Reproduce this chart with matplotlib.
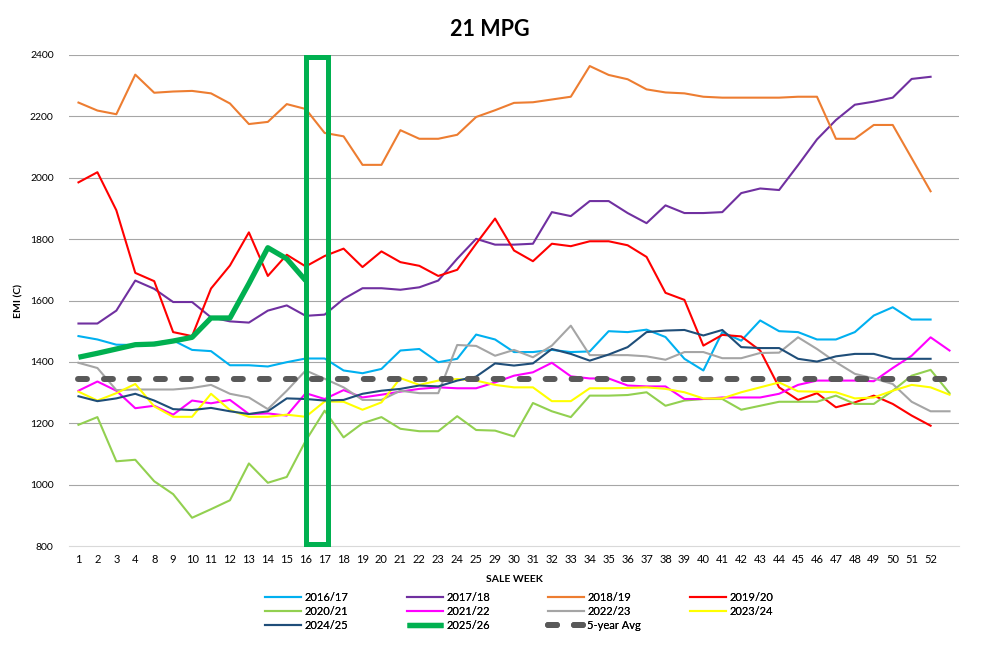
import numpy as np
import matplotlib
matplotlib.use("Agg")
import matplotlib.pyplot as plt
from matplotlib.patches import Rectangle

plt.rcParams['font.family'] = ['Lato', 'DejaVu Sans']

weeks = ["1", "2", "3", "4", "8", "9", "10", "11", "12", "13", "14", "15", "16", "17",
         "18", "19", "20", "21", "22", "23", "24", "25", "29", "30", "31", "32", "33",
         "34", "35", "36", "37", "38", "39", "40", "41", "42", "43", "44", "45", "46",
         "47", "48", "49", "50", "51", "52", ""]

s1617 = [1484, 1473, 1456, 1455, 1462, 1470, 1439, 1435, 1389, 1389,
         1385, 1399, 1411, 1411, 1372, 1363, 1377, 1437, 1442, 1399,
         1410, 1489, 1473, 1432, 1432, 1439, 1432, 1434, 1500, 1497,
         1505, 1481, 1410, 1372, 1497, 1469, 1535, 1500, 1497, 1473,
         1473, 1497, 1551, 1578, 1538, 1538]
s1718 = [1525, 1525, 1567, 1665, 1638, 1595, 1595, 1545, 1532, 1528,
         1567, 1584, 1550, 1554, 1605, 1640, 1640, 1635, 1643, 1665,
         1736, 1801, 1782, 1782, 1785, 1888, 1875, 1924, 1924, 1885,
         1852, 1910, 1885, 1885, 1888, 1950, 1965, 1960, 2041, 2125,
         2188, 2238, 2248, 2261, 2322, 2329]
s1819 = [2245, 2219, 2207, 2336, 2277, 2281, 2283, 2275, 2242, 2175,
         2182, 2240, 2224, 2146, 2135, 2042, 2042, 2155, 2127, 2127,
         2140, 2198, 2220, 2244, 2246, 2255, 2264, 2364, 2335, 2321,
         2288, 2278, 2275, 2264, 2261, 2261, 2261, 2261, 2264, 2264,
         2127, 2127, 2172, 2172, 2064, 1956]
s1920 = [1985, 2018, 1894, 1690, 1663, 1497, 1484, 1639, 1714, 1822,
         1680, 1749, 1711, 1745, 1769, 1709, 1760, 1725, 1713, 1680,
         1700, 1785, 1867, 1763, 1728, 1785, 1777, 1793, 1793, 1780,
         1742, 1625, 1602, 1453, 1488, 1483, 1437, 1317, 1276, 1298,
         1252, 1268, 1290, 1263, 1225, 1192]
s2021 = [1195, 1220, 1076, 1081, 1011, 969, 892, 920, 949, 1069,
         1006, 1025, 1143, 1241, 1154, 1200, 1220, 1182, 1174, 1174,
         1223, 1178, 1176, 1157, 1266, 1239, 1220, 1290, 1290, 1292,
         1301, 1257, 1274, 1279, 1279, 1244, 1257, 1270, 1270, 1270,
         1290, 1263, 1263, 1306, 1355, 1374, 1298]
s2122 = [1306, 1336, 1306, 1249, 1257, 1228, 1274, 1265, 1276, 1230,
         1232, 1225, 1298, 1279, 1308, 1284, 1293, 1303, 1312, 1317,
         1314, 1314, 1333, 1355, 1366, 1397, 1353, 1346, 1346, 1323,
         1320, 1320, 1279, 1279, 1284, 1284, 1284, 1296, 1325, 1339,
         1339, 1339, 1337, 1380, 1420, 1480, 1437]
s2223 = [1397, 1380, 1308, 1310, 1310, 1310, 1315, 1325, 1296, 1284,
         1246, 1306, 1372, 1345, 1317, 1276, 1276, 1306, 1298, 1298,
         1455, 1452, 1420, 1439, 1415, 1453, 1518, 1422, 1422, 1422,
         1418, 1407, 1432, 1432, 1412, 1412, 1429, 1430, 1480, 1442,
         1399, 1361, 1346, 1328, 1270, 1239, 1239]
s2324 = [1303, 1274, 1298, 1328, 1255, 1221, 1221, 1296, 1243, 1221,
         1221, 1228, 1221, 1271, 1270, 1244, 1268, 1347, 1325, 1339,
         1344, 1339, 1325, 1317, 1317, 1272, 1272, 1314, 1314, 1315,
         1317, 1312, 1301, 1281, 1281, 1301, 1317, 1333, 1304, 1303,
         1301, 1281, 1284, 1306, 1325, 1317, 1293]
s2425 = [1288, 1272, 1281, 1296, 1274, 1246, 1243, 1250, 1239, 1230,
         1239, 1281, 1279, 1274, 1276, 1296, 1306, 1312, 1323, 1320,
         1339, 1352, 1395, 1388, 1395, 1442, 1426, 1404, 1424, 1448,
         1497, 1502, 1504, 1486, 1504, 1448, 1445, 1445, 1410, 1401,
         1418, 1426, 1426, 1410, 1410, 1410]
s2526 = [1415, 1428, 1442, 1456, 1458, 1468, 1480, 1543, 1543, 1655,
         1772, 1736, 1665]
avg5 = [1345] * 47

series = [
    ("2016/17", s1617, "#00B0F0"),
    ("2017/18", s1718, "#7030A0"),
    ("2018/19", s1819, "#ED7D31"),
    ("2019/20", s1920, "#FF0000"),
    ("2020/21", s2021, "#92D050"),
    ("2021/22", s2122, "#FF00FF"),
    ("2022/23", s2223, "#A5A5A5"),
    ("2023/24", s2324, "#FFFF00"),
    ("2024/25", s2425, "#1F4E79"),
]

W, H = 987, 648
fig = plt.figure(figsize=(W / 100, H / 100), dpi=100)
ax = fig.add_axes([69 / W, 1 - 546 / H, (959 - 69) / W, (546 - 55) / H])

handles = {}
for name, vals, col in series:
    ln, = ax.plot(np.arange(len(vals)), vals, color=col, lw=1.5,
                  solid_joinstyle='round', zorder=3)
    handles[name] = ln

ln, = ax.plot(np.arange(len(s2526)), s2526, color="#00B050", lw=3.8,
              solid_joinstyle='round', solid_capstyle='butt', zorder=5)
handles["2025/26"] = ln
ln, = ax.plot(np.arange(len(avg5)), avg5, color="#595959", lw=4.3,
              linestyle=(0, (1.5, 2.85)), dash_capstyle='round', zorder=4)
handles["5-year Avg"] = ln

# highlight box around weeks 16-17
ax.add_patch(Rectangle((12.04, 808), 1.16, 1587, fill=False,
                       edgecolor="#00B050", lw=3.6, zorder=6, clip_on=False))

ax.set_xlim(-0.5, len(weeks) - 0.5)
ax.set_ylim(800, 2400)
ax.set_xticks(np.arange(len(weeks)))
ax.set_xticklabels(weeks, fontsize=8)
ax.set_yticks(np.arange(800, 2401, 200))
ax.tick_params(axis='both', length=0, colors='#000000')
ax.tick_params(axis='y', pad=11, labelsize=7.5)
ax.tick_params(axis='x', pad=6)
ax.grid(axis='y', color='#A6A6A6', lw=0.8, zorder=0)
ax.get_ygridlines()[0].set_visible(False)
ax.set_axisbelow(True)
for s in ['left', 'top', 'right']:
    ax.spines[s].set_visible(False)
ax.spines['bottom'].set_color('#D9D9D9')
ax.spines['bottom'].set_linewidth(0.8)

ax.set_xlabel("SALE WEEK", fontsize=7.5, fontweight='bold', labelpad=7)
ax.set_ylabel("EMI (C)", fontsize=7.5, fontweight='bold')
ax.yaxis.set_label_coords((23 - 69) / 890, 0.5)
fig.text(490 / W, 1 - 30 / H, "21 MPG", ha='center', va='center',
         fontsize=15.5, fontweight='bold')

cols = [["2016/17", "2020/21", "2024/25"],
        ["2017/18", "2021/22", "2025/26"],
        ["2018/19", "2022/23", "5-year Avg"],
        ["2019/20", "2023/24"]]
col_x = [265, 407, 548, 690]
for cx, names in zip(col_x, cols):
    leg = fig.legend([handles[n] for n in names], names, loc='upper left',
                     bbox_to_anchor=(cx / W, 1 - 592 / H), frameon=False,
                     fontsize=8, handlelength=3.2, handletextpad=0.35,
                     labelspacing=0.25, borderpad=0, borderaxespad=0)
    fig.add_artist(leg)

fig.savefig("out.png", dpi=100)
